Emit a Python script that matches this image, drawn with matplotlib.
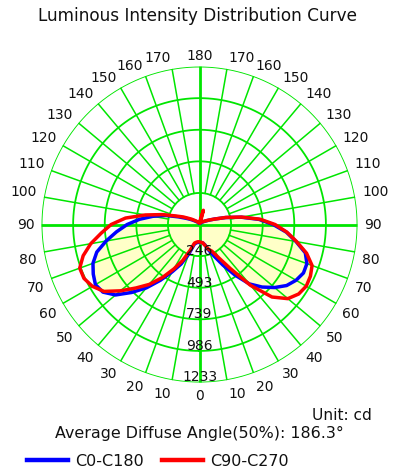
import numpy as np
import matplotlib
matplotlib.use('Agg')
import matplotlib.pyplot as plt
from matplotlib.lines import Line2D

# Gamma angles (deg, 0 = straight down) and intensities (cd)
gamma = [0, 5, 10, 15, 20, 25, 30, 35, 40, 45, 50, 55, 60, 65, 70, 75, 80, 85, 90,
         95, 100, 105, 110, 115, 120, 125, 130, 135, 140, 145, 150, 155, 160, 165, 170, 175, 180]

# C0-C180 plane (blue): C0 drawn on the right, C180 on the left
c0 = [140, 140, 145, 165, 215, 275, 365, 480, 605, 690, 765, 830, 870, 895, 892, 855, 765, 680, 575,
      465, 330, 210, 125, 80, 55, 40, 30, 25, 20, 17, 15, 13, 12, 11, 10, 10, 10]
c180 = [140, 140, 145, 160, 245, 340, 425, 530, 645, 750, 855, 920, 938, 915, 885, 830, 740, 650, 565,
        470, 370, 275, 175, 115, 80, 55, 40, 30, 25, 22, 20, 17, 15, 13, 12, 10, 10]

# C90-C270 plane (red): C90 on the right, C270 on the left
c90 = [140, 140, 145, 170, 205, 230, 300, 420, 620, 800, 900, 945, 962, 955, 935, 865, 770, 685, 590,
       475, 335, 215, 125, 85, 60, 45, 35, 30, 25, 22, 20, 20, 25, 115, 40, 20, 15]
c270 = [135, 135, 140, 150, 215, 310, 400, 505, 610, 700, 805, 910, 965, 995, 995, 940, 862, 770, 690,
        580, 430, 300, 195, 140, 95, 70, 50, 40, 30, 25, 20, 18, 15, 15, 15, 15, 15]

r_max = 1233
ring_labels = ['246', '493', '739', '986', '1233']
angle_labels = list(range(0, 181, 10))

green = '#00E600'
text_color = '#111111'

fig = plt.figure(figsize=(3.95, 4.73), dpi=100)
ax = fig.add_axes([0.1051, 0.1913, 0.8, 0.668], projection='polar')
ax.set_theta_zero_location('S')
ax.set_theta_direction(1)
ax.set_ylim(0, r_max)
ax.set_axis_off()

g = np.radians(gamma)
theta = np.concatenate([-g[::-1], g[1:]])

# yellow area: C180 half on the left, C90 half on the right
fill_r = np.concatenate([np.array(c180)[::-1], np.array(c90)[1:]])
ax.fill(theta, fill_r, color='#FFFFC8', lw=0, zorder=1)

# grid: rings and radial spokes
rings = [r_max * k / 5 for k in range(1, 6)]
circle = np.linspace(0, 2 * np.pi, 361)
for ring in rings:
    ax.plot(circle, np.full_like(circle, ring), color=green, lw=1.3, zorder=2)
for a in range(10, 180, 10):
    if a == 90:
        continue
    for s in (1, -1):
        ax.plot([s * np.radians(a)] * 2, [rings[0], r_max], color=green, lw=1.1, zorder=2)
for a in (0, 90, 180, -90):
    ax.plot([np.radians(a)] * 2, [0, r_max], color=green, lw=2.0, zorder=2)

# curves
blue_r = np.concatenate([np.array(c180)[::-1], np.array(c0)[1:]])
red_r = np.concatenate([np.array(c270)[::-1], np.array(c90)[1:]])
ax.plot(theta, blue_r, color='#0000FF', lw=2.5, zorder=3)
ax.plot(theta, red_r, color='#FF0000', lw=2.5, zorder=4)

# angle labels round the outside
r_lab = r_max * 1.044
for a in angle_labels:
    sides = (1,) if a in (0, 180) else (1, -1)
    for s in sides:
        if a in (0, 180):
            ha = 'center'
        else:
            ha = 'left' if s > 0 else 'right'
        if a > 90:
            va = 'baseline'
        elif a == 90:
            va = 'center'
        else:
            va = 'top'
        ax.text(s * np.radians(a), r_lab, str(a), ha=ha, va=va, fontsize=10,
                color=text_color, clip_on=False, zorder=5)

# ring values along the downward axis
for ring, lab in zip(rings, ring_labels):
    ax.text(0, ring - 8, lab, ha='center', va='baseline', fontsize=10,
            color=text_color, zorder=5)

fig.text(0.5, 1 - 16 / 473, 'Luminous Intensity Distribution Curve', ha='center', va='center',
         fontsize=12.2, color=text_color)
fig.text(372 / 395, 1 - 415 / 473, 'Unit: cd', ha='right', va='center', fontsize=11.1, color=text_color)
fig.text(199 / 395, 1 - 433 / 473, 'Average Diffuse Angle(50%): 186.3°', ha='center', va='center',
         fontsize=11.4, color=text_color)

handles = [Line2D([], [], color='#0000FF', lw=3.2), Line2D([], [], color='#FF0000', lw=3.2)]
fig.legend(handles, ['C0-C180', 'C90-C270'], loc='center', bbox_to_anchor=(158 / 395, 1 - 461 / 473),
           ncol=2, frameon=False, fontsize=11.5, handlelength=2.6, handletextpad=0.45, columnspacing=1.1,
           labelcolor=text_color)

fig.savefig('out.png', dpi=100)
